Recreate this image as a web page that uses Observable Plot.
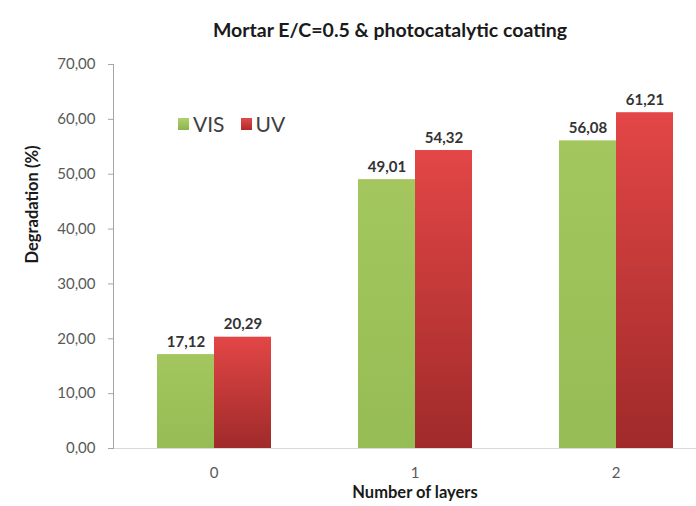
<!DOCTYPE html>
<html><head><meta charset="utf-8">
<script src="https://cdn.jsdelivr.net/npm/d3@7"></script>
<script src="https://cdn.jsdelivr.net/npm/@observablehq/plot@0.6"></script>
<style>
body{margin:0;background:#fff;font-family:Lato,"Open Sans",sans-serif;}
#wrap{position:relative;width:696px;height:506px;overflow:hidden;}
#title{height:44px;box-sizing:border-box;padding-top:19px;padding-left:84px;text-align:center;font-weight:bold;font-size:19.5px;line-height:22px;color:#1a1a1a;}
#legend{position:absolute;left:178px;top:112px;display:flex;align-items:center;font-size:21px;color:#404040;line-height:24px;}
.sw{width:11px;height:12px;display:inline-block;margin-right:4px}
#chart svg{display:block}
</style></head><body>
<div id="wrap">
<div id="title">Mortar E/C=0.5 &amp; photocatalytic coating</div>
<div id="chart"></div>
<div id="legend"><span class="sw" style="background:linear-gradient(#b0d070,#8db44c)"></span><span style="margin-right:16px">VIS</span><span class="sw" style="background:linear-gradient(#e24a4a,#b02a2a)"></span><span>UV</span></div>
</div>
<script>
const layers = ["0", "1", "2"];
const series = ["VIS", "UV"];
const vis = [17.12, 49.01, 56.08];
const uv = [20.29, 54.32, 61.21];
const yTicks = [0, 10, 20, 30, 40, 50, 60, 70];

const data = layers.flatMap((l, i) => [
  {layer: l, series: "VIS", value: vis[i]},
  {layer: l, series: "UV", value: uv[i]}
]);
const fmt = v => d3.format(".2f")(v).replace(".", ",");

const plot = Plot.plot({
  width: 696, height: 462,
  marginTop: 20, marginBottom: 58, marginLeft: 113, marginRight: -20,
  style: {fontFamily: "Lato, 'Open Sans', sans-serif", fontSize: "15px", color: "#595959", background: "transparent"},
  fx: {domain: layers, padding: 0, label: null},
  x: {domain: series, paddingInner: 0, paddingOuter: 0.733, axis: null},
  y: {domain: [0, 70], label: null},
  marks: [
    Plot.frame({anchor: "bottom", stroke: "#d9d9d9"}),
    Plot.barY(data.filter(d => d.series === "VIS"), {fx: "layer", x: "series", y: "value", fill: "url(#visGrad)"}),
    Plot.barY(data.filter(d => d.series === "UV"), {fx: "layer", x: "series", y: "value", fill: "url(#uvGrad)"}),
    Plot.text(data, {fx: "layer", x: "series", y: "value", text: d => fmt(d.value), lineAnchor: "bottom", dy: -8, fontWeight: "bold", fill: "#333", fontSize: 15}),
    Plot.axisY({ticks: yTicks, tickFormat: fmt, tickSize: 5, tickPadding: 13, stroke: "#a6a6a6", fill: "#595959", label: null, fontSize: 15}),
    Plot.frame({anchor: "left", facetAnchor: "left", stroke: "#a6a6a6"}),
    Plot.text(["Degradation (%)"], {frameAnchor: "left", rotate: -90, dx: -81, dy: 7, fontWeight: "bold", fill: "#1a1a1a", fontSize: 16.5, facetAnchor: "left"}),
    Plot.axisFx({anchor: "bottom", tickSize: 0, tickPadding: 19, label: null, fontSize: 15, fill: "#595959"}),
    Plot.text(["Number of layers"], {frameAnchor: "bottom", dy: 49, fontWeight: "bold", fill: "#1a1a1a", fontSize: 16.5, facet: "super"})
  ]
});

d3.select(plot).insert("defs", ":first-child").html(
  `<linearGradient id="uvGrad" x1="0" y1="0" x2="0" y2="1"><stop offset="0" stop-color="#e34646"/><stop offset="1" stop-color="#a02a2a"/></linearGradient>` +
  `<linearGradient id="visGrad" x1="0" y1="0" x2="0" y2="1"><stop offset="0" stop-color="#a3c75e"/><stop offset="1" stop-color="#96bc55"/></linearGradient>`
);
document.getElementById("chart").appendChild(plot);
</script>
</body></html>
